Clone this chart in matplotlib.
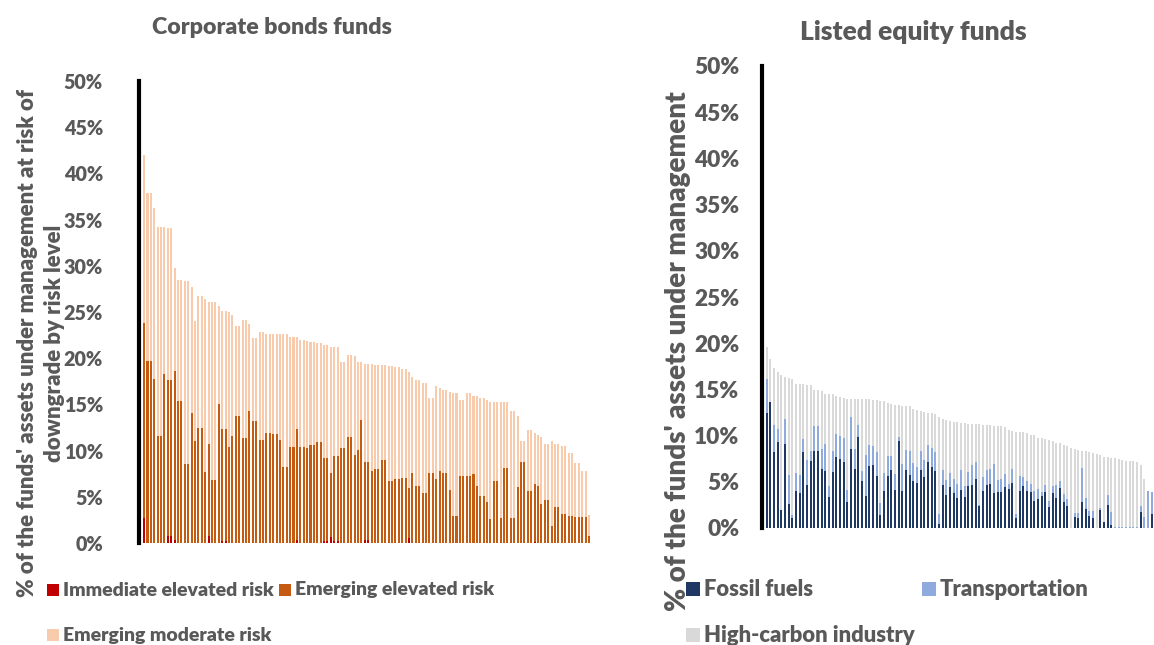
import matplotlib
matplotlib.use("Agg")
import matplotlib.pyplot as plt
import numpy as np
from matplotlib.patches import Rectangle
from matplotlib.ticker import FuncFormatter, MultipleLocator

plt.rcParams["font.family"] = ["Lato", "DejaVu Sans"]
WEIGHT = "heavy"
plt.rcParams["font.weight"] = WEIGHT

TEXT = "#595959"

# Corporate bonds funds: share of AUM at risk of downgrade (%), one entry per fund
CB_IMMEDIATE = [
    2.7, 0, 0, 0, 0, 0, 0, 0.8, 0.8, 0.3,
    0, 0, 0, 0, 0, 0, 0, 0, 0, 0.8,
    0, 0, 0, 0.2, 0.2, 0, 0, 0, 0, 0,
    0, 0, 0, 0, 0, 0, 0, 0, 0, 0,
    0, 0, 0, 0, 0, 0.3, 0, 0, 0, 0,
    0, 0, 0, 0.2, 0.2, 0.6, 0.2, 0.2, 0, 0,
    0, 0, 0, 0, 0, 0.3, 0.3, 0, 0, 0,
    0, 0, 0, 0, 0, 0, 0, 0, 0.5, 0,
    0, 0, 0, 0, 0, 0, 0, 0, 0, 0,
    0, 0, 0, 0, 0, 0, 0, 0, 0, 0,
    0, 0, 0, 0, 0, 0, 0, 0, 0, 0,
    0, 0, 0, 0, 0, 0.1, 0, 0, 0, 0,
    0, 0, 0, 0, 0, 0, 0, 0, 0, 0,
    0, 0,
]
CB_EMERGING_ELEVATED = [
    21.1, 19.7, 19.7, 17.7, 11.6, 11.6, 18.3, 16.8, 16.8, 18.3,
    15.4, 15.4, 8.6, 8.6, 14.1, 11.0, 12.5, 12.5, 7.7, 9.9,
    6.8, 6.8, 15.0, 12.1, 12.1, 10.4, 11.6, 13.7, 13.7, 11.4,
    11.4, 14.3, 13.2, 13.2, 11.1, 11.1, 11.9, 11.9, 11.8, 11.8,
    11.1, 8.2, 8.2, 10.4, 10.4, 12.0, 10.4, 10.4, 10.3, 10.6,
    10.6, 10.9, 10.9, 9.0, 9.0, 7.0, 9.2, 9.2, 10.3, 10.3,
    11.5, 11.5, 9.5, 10.1, 13.3, 8.5, 8.5, 7.8, 8.0, 8.0,
    9.0, 9.0, 6.7, 6.7, 6.9, 6.9, 7.0, 7.0, 5.5, 7.6,
    6.2, 6.2, 5.4, 5.4, 7.6, 7.6, 6.9, 7.8, 7.6, 7.6,
    5.7, 2.9, 2.9, 7.3, 7.3, 7.3, 7.3, 7.5, 6.2, 5.1,
    5.1, 4.4, 2.6, 6.7, 6.7, 2.7, 8.1, 8.1, 2.7, 2.7,
    6.1, 8.8, 8.8, 5.6, 5.6, 6.3, 6.2, 4.2, 4.7, 4.7,
    1.8, 3.9, 3.9, 3.1, 3.1, 2.9, 2.9, 2.8, 2.8, 2.8,
    2.8, 0.8,
]
CB_EMERGING_MODERATE = [
    18.2, 18.2, 18.2, 18.6, 22.6, 22.6, 15.9, 16.5, 16.5, 11.2,
    13.1, 13.1, 19.8, 19.8, 13.6, 13.0, 14.2, 14.2, 18.7, 15.4,
    19.3, 19.3, 10.7, 12.8, 12.8, 14.6, 13.1, 9.8, 9.8, 12.7,
    12.7, 9.4, 9.0, 9.0, 11.7, 11.7, 10.7, 10.7, 10.8, 10.8,
    11.5, 14.4, 14.4, 11.9, 11.9, 10.0, 11.6, 11.6, 11.6, 11.2,
    11.2, 10.7, 10.7, 12.2, 12.2, 13.6, 11.8, 11.8, 9.3, 9.3,
    8.8, 8.8, 10.7, 9.5, 6.3, 10.6, 10.6, 11.6, 11.3, 11.3,
    10.3, 10.3, 12.5, 12.5, 12.1, 12.1, 11.8, 11.8, 12.5, 10.4,
    11.4, 11.4, 11.9, 11.9, 8.1, 8.1, 10.1, 9.0, 9.0, 9.0,
    10.6, 13.3, 13.3, 8.2, 8.2, 8.9, 8.9, 8.4, 9.7, 10.6,
    10.6, 11.1, 12.7, 8.6, 8.6, 12.6, 7.2, 7.2, 11.6, 11.6,
    7.6, 2.2, 2.2, 6.6, 6.6, 5.5, 5.5, 7.3, 6.0, 6.0,
    9.2, 6.8, 6.8, 7.4, 7.4, 6.8, 6.8, 5.9, 5.9, 5.0,
    5.0, 2.2,
]

# Listed equity funds: share of AUM by high-carbon sector (%), one entry per fund
EQ_FOSSIL = [
    12.4, 13.6, 8.2, 9.3, 1.9, 9.1, 2.6, 1.1, 4.0, 3.8,
    8.2, 4.7, 7.2, 8.3, 8.3, 6.4, 6.2, 3.4, 6.1, 7.7,
    7.5, 7.1, 2.8, 8.5, 6.4, 9.9, 5.1, 3.5, 6.7, 6.8,
    5.6, 1.4, 4.0, 5.6, 6.3, 4.1, 9.4, 4.0, 6.3, 5.7,
    5.1, 4.9, 6.3, 5.5, 7.1, 6.6, 6.2, 0.4, 4.6, 3.6,
    4.4, 3.8, 3.3, 4.1, 3.4, 4.5, 4.6, 5.3, 2.4, 4.0,
    4.6, 4.8, 3.8, 3.9, 3.9, 4.4, 4.2, 4.9, 1.1, 4.0,
    4.5, 4.0, 3.9, 2.9, 3.1, 3.5, 3.9, 2.3, 3.8, 3.2,
    4.3, 2.8, 2.4, 0, 1.2, 1.1, 2.8, 2.1, 1.3, 1.1,
    0, 1.9, 0.7, 2.5, 0.3, 0, 0, 0, 0, 0,
    0, 0, 1.7, 0, 0, 1.5,
]
EQ_TRANSPORT = [
    3.7, 0, 3.0, 1.4, 0.1, 2.7, 3.1, 0.3, 1.9, 1.9,
    1.4, 2.7, 1.1, 2.7, 2.7, 2.1, 2.9, 1.1, 2.2, 2.5,
    2.5, 2.6, 1.3, 3.5, 2.1, 1.2, 1.1, 4.4, 2.3, 2.1,
    2.6, 1.3, 2.0, 2.2, 1.5, 1.7, 0.4, 2.9, 2.1, 2.6,
    1.9, 1.7, 2.0, 1.9, 1.9, 2.1, 2.0, 1.1, 1.7, 1.6,
    1.6, 1.5, 1.5, 2.2, 1.1, 1.6, 2.2, 1.8, 0.1, 1.5,
    1.7, 1.6, 3.1, 1.3, 1.4, 1.4, 0.6, 1.5, 0.4, 1.6,
    1.0, 1.1, 0.9, 1.1, 1.1, 0.4, 0.8, 0.6, 0.7, 1.5,
    0.8, 0.9, 0.7, 0, 0.4, 0.5, 3.7, 1.1, 0.5, 0.7,
    0, 0.3, 0, 1.1, 1.4, 0.1, 0.1, 0.1, 0.1, 0.1,
    0.1, 0.1, 0.7, 1.2, 4.0, 2.4,
]
EQ_HIGH_CARBON = [
    3.5, 4.7, 6.1, 6.2, 14.6, 4.5, 10.5, 14.7, 9.7, 9.9,
    6.0, 8.1, 7.2, 3.9, 3.9, 6.3, 5.4, 10.0, 6.2, 4.1,
    4.2, 4.4, 9.9, 2.0, 5.5, 2.9, 7.8, 6.1, 5.0, 5.0,
    5.6, 11.0, 7.7, 5.7, 5.6, 7.5, 3.5, 6.3, 4.8, 4.9,
    5.9, 6.2, 4.4, 5.2, 3.5, 3.7, 4.1, 10.5, 5.5, 6.5,
    5.6, 6.2, 6.7, 5.1, 6.9, 5.2, 4.5, 4.2, 8.8, 5.6,
    4.8, 4.7, 4.1, 5.8, 5.7, 5.1, 5.8, 4.1, 8.9, 4.8,
    4.9, 5.2, 5.3, 6.1, 5.5, 5.8, 4.9, 6.6, 4.9, 4.5,
    4.1, 5.3, 5.8, 8.7, 7.0, 6.8, 1.8, 5.1, 6.4, 6.3,
    8.0, 5.7, 7.0, 4.1, 5.9, 7.5, 7.4, 7.3, 7.2, 7.2,
    7.2, 7.0, 4.4, 4.1, 0, 0,
]

CB_LABELS = ["Immediate elevated risk", "Emerging elevated risk", "Emerging moderate risk"]
CB_COLORS = ["#C00000", "#C55A11", "#F8CBAD"]
EQ_LABELS = ["Fossil fuels", "Transportation", "High-carbon industry"]
EQ_COLORS = ["#203864", "#8FAADC", "#D9D9D9"]

W, H = 1154, 645


def fig_xy(px, py):
    return px / W, 1 - py / H


def stacked(ax, series, colors, width):
    x = np.arange(len(series[0]))
    bottom = np.zeros(len(x))
    for vals, col in zip(series, colors):
        vals = np.asarray(vals, dtype=float)
        ax.bar(x, vals, width=width, bottom=bottom, color=col, linewidth=0)
        bottom += vals
    return x


def style_axis(ax, pad, size):
    ax.set_ylim(0, 50)
    ax.yaxis.set_major_locator(MultipleLocator(5))
    ax.yaxis.set_major_formatter(FuncFormatter(lambda v, _: f"{v:.0f}%"))
    ax.tick_params(axis="y", length=0, pad=pad, labelsize=size, labelcolor=TEXT)
    ax.set_xticks([])
    for side in ("top", "right", "bottom"):
        ax.spines[side].set_visible(False)
    ax.spines["left"].set_color("black")
    ax.spines["left"].set_linewidth(3.0)
    for lab in ax.get_yticklabels():
        lab.set_fontweight(WEIGHT)


def legend_entry(fig, px, py, color, label, size=14, box=13):
    sx, sy = fig_xy(px, py + box / 2)
    fig.add_artist(Rectangle((sx, sy), box / W, box / H, transform=fig.transFigure,
                             facecolor=color, edgecolor="none"))
    tx, ty = fig_xy(px + box + 4, py)
    fig.text(tx, ty, label, ha="left", va="center", fontsize=size,
             color=TEXT, fontweight=WEIGHT)


fig = plt.figure(figsize=(W / 100, H / 100), dpi=100)

# left panel: corporate bonds
l0, b0 = fig_xy(139, 543)
l1, t0 = fig_xy(592, 81)
ax1 = fig.add_axes([l0, b0, l1 - l0, t0 - b0])
stacked(ax1, [CB_IMMEDIATE, CB_EMERGING_ELEVATED, CB_EMERGING_MODERATE], CB_COLORS, 0.6)
ax1.set_xlim(-1.5, len(CB_IMMEDIATE) - 1 + 0.9)
style_axis(ax1, pad=26, size=14.2)

# right panel: listed equity
l0, b0 = fig_xy(761.5, 528)
l1, t0 = fig_xy(1154, 66)
ax2 = fig.add_axes([l0, b0, l1 - l0, t0 - b0])
stacked(ax2, [EQ_FOSSIL, EQ_TRANSPORT, EQ_HIGH_CARBON], EQ_COLORS, 0.55)
ax2.set_xlim(-1.4, len(EQ_FOSSIL) - 1 + 0.6)
style_axis(ax2, pad=16, size=16.3)

# titles
fig.text(*fig_xy(272, 28), "Corporate bonds funds", ha="center", va="center",
         fontsize=16.7, color=TEXT, fontweight=WEIGHT)
fig.text(*fig_xy(913, 32), "Listed equity funds", ha="center", va="center",
         fontsize=19, color=TEXT, fontweight=WEIGHT)

# y-axis titles
fig.text(*fig_xy(41, 343),
         "% of the funds' assets under management at risk of\ndowngrade by risk level",
         rotation=90, ha="center", va="center", multialignment="center",
         linespacing=1.3, fontsize=16, color=TEXT, fontweight=WEIGHT)
fig.text(*fig_xy(678, 351), "% of the funds' assets under management",
         rotation=90, ha="center", va="center",
         fontsize=20, color=TEXT, fontweight=WEIGHT)

# legends
legend_entry(fig, 47, 590, CB_COLORS[0], CB_LABELS[0], box=12)
legend_entry(fig, 279, 590, CB_COLORS[1], CB_LABELS[1], box=12)
legend_entry(fig, 47, 635, CB_COLORS[2], CB_LABELS[2], box=12)
legend_entry(fig, 686, 589, EQ_COLORS[0], EQ_LABELS[0], size=15.8, box=14)
legend_entry(fig, 922, 589, EQ_COLORS[1], EQ_LABELS[1], size=15.8, box=14)
legend_entry(fig, 686, 635, EQ_COLORS[2], EQ_LABELS[2], size=15.8, box=14)

fig.savefig("out.png", dpi=100)
